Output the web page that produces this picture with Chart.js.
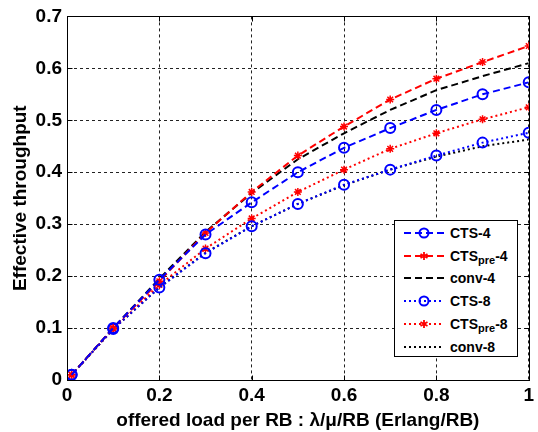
<!DOCTYPE html>
<html><head><meta charset="utf-8">
<script src="https://cdn.jsdelivr.net/npm/chart.js@4/dist/chart.umd.min.js"></script>
<style>
html,body{margin:0;padding:0;background:#fff;}
#wrap{position:relative;width:538px;height:432px;}
#legend{position:absolute;left:394px;top:220px;width:124px;height:137px;background:#fff;border:1px solid #000;box-sizing:border-box;font-family:"Liberation Sans",Arial,sans-serif;font-weight:bold;font-size:14px;color:#000;}
#legend .row{position:absolute;left:8px;height:20px;display:flex;align-items:center;}
#legend svg{width:42px;height:14px;margin-right:5px;}
#legend sub{font-size:11px;vertical-align:-3px;line-height:0;}
</style></head>
<body><div id="wrap"><canvas id="c" width="538" height="432"></canvas><div id="legend"></div></div>
<script>
const xValues = [0.01, 0.1, 0.2, 0.3, 0.4, 0.5, 0.6, 0.7, 0.8, 0.9, 1.0];
const cts4    = [0.01, 0.100, 0.193, 0.280, 0.342, 0.400, 0.447, 0.485, 0.520, 0.550, 0.573];
const ctsPre4 = [0.01, 0.100, 0.190, 0.283, 0.362, 0.432, 0.488, 0.540, 0.580, 0.612, 0.643];
const conv4   = [0.01, 0.100, 0.195, 0.285, 0.360, 0.425, 0.475, 0.520, 0.558, 0.585, 0.610];
const cts8    = [0.01, 0.098, 0.178, 0.244, 0.296, 0.339, 0.376, 0.405, 0.432, 0.457, 0.476];
const ctsPre8 = [0.01, 0.098, 0.183, 0.253, 0.311, 0.362, 0.405, 0.445, 0.475, 0.502, 0.525];
const conv8   = [0.01, 0.098, 0.178, 0.245, 0.296, 0.339, 0.375, 0.405, 0.430, 0.450, 0.463];
const xTicks = [0, 0.2, 0.4, 0.6, 0.8, 1];
const yTicks = [0, 0.1, 0.2, 0.3, 0.4, 0.5, 0.6, 0.7];
const seriesNames = ['CTS-4', 'CTS<sub>pre</sub>-4', 'conv-4', 'CTS-8', 'CTS<sub>pre</sub>-8', 'conv-8'];

const DASH = [7, 4], DOT = [2, 3];
function pts(ys){ return xValues.map((x,i)=>({x, y: ys[i]})); }
function ds(label, ys, color, dash, marker){
  return {label, data: pts(ys), borderColor: color, backgroundColor: 'rgba(0,0,0,0)',
    borderWidth: 2, borderDash: dash, tension: 0,
    pointStyle: marker || 'circle', pointRadius: marker ? (marker==='circle'?5:4) : 0,
    pointBorderColor: color, pointBorderWidth: marker==='circle'?2:1.5, pointBackgroundColor: 'rgba(0,0,0,0)'};
}
const datasets = [
  ds(seriesNames[0], cts4, '#0000ff', DASH, 'circle'),
  ds(seriesNames[1], ctsPre4, '#ff0000', DASH, 'star'),
  ds(seriesNames[2], conv4, '#000000', DASH, null),
  ds(seriesNames[3], cts8, '#0000ff', DOT, 'circle'),
  ds(seriesNames[4], ctsPre8, '#ff0000', DOT, 'star'),
  ds(seriesNames[5], conv8, '#000000', DOT, null)
];
const FONT = '"Liberation Sans", Arial, sans-serif';
const boxPlugin = {id:'box', afterDatasetsDraw(chart){
  const a = chart.chartArea, c = chart.ctx;
  const L = Math.round(a.left)+0.5, T = Math.round(a.top)+0.5, R = Math.round(a.right)+0.5, B = Math.round(a.bottom)+0.5;
  c.save(); c.strokeStyle='#000'; c.lineWidth=1; c.setLineDash([]);
  c.strokeRect(L, T, R-L, B-T);
  const k = 5;
  c.beginPath();
  chart.scales.x.ticks.forEach(t => { const px = Math.round(chart.scales.x.getPixelForValue(t.value))+0.5;
    c.moveTo(px, B); c.lineTo(px, B-k); c.moveTo(px, T); c.lineTo(px, T+k); });
  chart.scales.y.ticks.forEach(t => { const py = Math.round(chart.scales.y.getPixelForValue(t.value))+0.5;
    c.moveTo(L, py); c.lineTo(L+k, py); c.moveTo(R, py); c.lineTo(R-k, py); });
  c.stroke();
  c.restore();
}};
new Chart(document.getElementById('c'), {
  type: 'line',
  data: {datasets},
  options: {
    responsive: false, animation: false, devicePixelRatio: 1,
    layout: {padding: {top: 14, right: 8, left: 0, bottom: 0}},
    plugins: {legend: {display: false}, tooltip: {enabled: false}},
    scales: {
      x: {type: 'linear', min: 0, max: 1,
        afterBuildTicks: s => { s.ticks = xTicks.map(v=>({value:v})); },
        afterFit: s => { s.height = 52; },
        grid: {color: '#222', lineWidth: 1, drawTicks: false, tickLength: 0},
        border: {display: true, color: '#000', dash: [3,3]},
        ticks: {color: '#000', padding: 4, font: {family: FONT, size: 19, weight: 'bold'}, maxRotation: 0,
          callback: v => String(Number(v.toFixed(1)))},
        title: {display: true, text: 'offered load per RB : λ/μ/RB (Erlang/RB)', color: '#000', padding: {top: 2, bottom: 0},
          font: {family: FONT, size: 19, weight: 'bold'}}
      },
      y: {type: 'linear', min: 0, max: 0.7,
        afterBuildTicks: s => { s.ticks = yTicks.map(v=>({value:v})); },
        afterFit: s => { s.width = 67; },
        grid: {color: '#222', lineWidth: 1, drawTicks: false, tickLength: 0},
        border: {display: true, color: '#000', dash: [3,3]},
        ticks: {color: '#000', padding: 5, font: {family: FONT, size: 19, weight: 'bold'},
          callback: v => String(Number(v.toFixed(1)))},
        title: {display: true, text: 'Effective throughput', color: '#000', padding: {top: 9, bottom: 0},
          font: {family: FONT, size: 19, weight: 'bold'}}
      }
    }
  },
  plugins: [boxPlugin]
});

// HTML legend
const leg = document.getElementById('legend');
datasets.forEach((d, i) => {
  const row = document.createElement('div');
  row.className = 'row';
  row.style.top = (2 + i * 22.7) + 'px';
  const dash = d.borderDash.join(',');
  let marker = '';
  if (d.pointRadius && d.pointStyle === 'circle') marker = `<circle cx="21" cy="7" r="4.5" fill="none" stroke="${d.borderColor}" stroke-width="2"/>`;
  if (d.pointRadius && d.pointStyle === 'star') marker = `<path d="M21 3v8M17.5 5l7 4M17.5 9l7-4" stroke="${d.borderColor}" stroke-width="1.8"/>`;
  row.innerHTML = `<svg viewBox="0 0 42 14"><line x1="1" y1="7" x2="41" y2="7" stroke="${d.borderColor}" stroke-width="2" stroke-dasharray="${dash}"/>${marker}</svg><span>${d.label}</span>`;
  leg.appendChild(row);
});
</script></body></html>
